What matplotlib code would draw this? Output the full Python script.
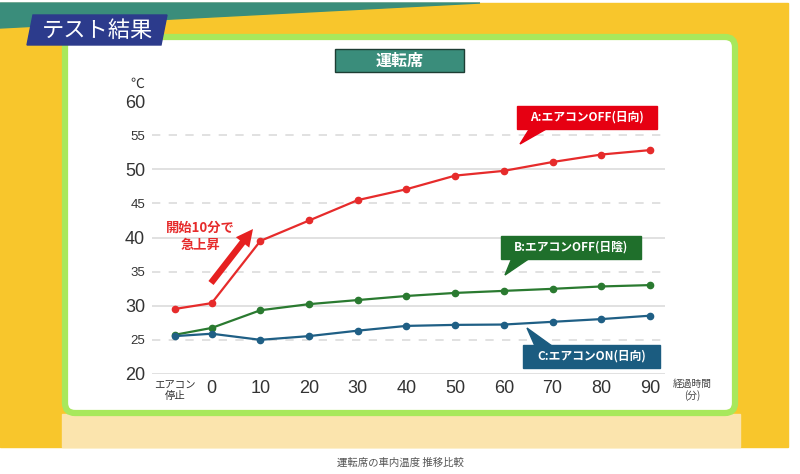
import matplotlib
matplotlib.use("Agg")
import matplotlib.pyplot as plt
from matplotlib.patches import Polygon, Rectangle, FancyBboxPatch, FancyArrow

plt.rcParams['font.family'] = ['Noto Sans CJK JP', 'DejaVu Sans']
NUM_FONT = ['Liberation Sans', 'Noto Sans CJK JP']

# data
x_pos = [-7.5, 0, 10, 20, 30, 40, 50, 60, 70, 80, 90]
x_labels = ['エアコン\n停止', '0', '10', '20', '30', '40', '50', '60', '70', '80', '90']
temp_a = [29.5, 30.35, 39.5, 42.5, 45.5, 47.1, 49.1, 49.8, 51.1, 52.2, 52.85]
temp_b = [25.7, 26.7, 29.3, 30.2, 30.8, 31.4, 31.85, 32.15, 32.45, 32.8, 33.0]
temp_c = [25.5, 25.85, 24.95, 25.5, 26.3, 27.0, 27.15, 27.2, 27.6, 28.0, 28.5]
y_major = [20, 30, 40, 50, 60]
y_minor = [25, 35, 45, 55]

RED = '#e62b2b'
GREEN = '#2a7a30'
BLUE = '#1f5f85'

fig = plt.figure(figsize=(8, 4.74), dpi=100)

# background decoration in pixel coords
bg = fig.add_axes([0, 0, 1, 1], zorder=0)
bg.set_xlim(0, 800)
bg.set_ylim(474, 0)
bg.axis('off')
bg.add_patch(Rectangle((0, 3), 788, 444, color='#f8c62c'))
bg.add_patch(Rectangle((62, 414), 678, 33, color='#fbe4ad'))
bg.add_patch(Polygon([(0, 3), (480, 3), (0, 28)], color='#3a8d7b'))
bg.add_patch(FancyBboxPatch((65, 37), 670, 376, boxstyle='round,pad=0,rounding_size=10',
                            facecolor='white', edgecolor='#a8e85c', linewidth=4.5))
bg.add_patch(Polygon([(33, 15), (167, 15), (161, 45), (27, 45)], color='#2c3b8c'))
bg.text(98, 30, 'テスト結果', color='white', fontsize=16, ha='center', va='center')
bg.add_patch(Rectangle((335, 49), 129, 23, facecolor='#3a8d7b', edgecolor='#1d3d33', linewidth=1))
bg.text(399.5, 60.5, '運転席', color='white', fontsize=11.5, fontweight='bold', ha='center', va='center')
bg.text(400, 463, '運転席の車内温度 推移比較', color='#555555', fontsize=7.5, ha='center', va='center')

# main chart
ax = fig.add_axes([152 / 800, 1 - 373.5 / 474, 513 / 800, 272 / 474], zorder=1)
ax.patch.set_alpha(0)
ax.set_xlim(-12.26, 93.1)
ax.set_ylim(20, 60)
for s in ax.spines.values():
    s.set_visible(False)
for v in y_major:
    ax.axhline(v, color='#dcdcdc', lw=1.2, zorder=1)
for v in y_minor:
    ax.axhline(v, color='#dcdcdc', lw=1.2, ls=(0, (5, 5)), zorder=1)

ax.plot(x_pos, temp_a, color=RED, lw=1.6, marker='o', ms=4.5, zorder=3)
ax.plot(x_pos, temp_b, color=GREEN, lw=1.6, marker='o', ms=4.5, zorder=3)
ax.plot(x_pos, temp_c, color=BLUE, lw=1.6, marker='o', ms=4.5, zorder=3)

ax.set_yticks(y_major + y_minor)
ax.set_yticklabels([str(v) for v in y_major + y_minor])
for lbl, v in zip(ax.get_yticklabels(), y_major + y_minor):
    lbl.set_fontfamily(NUM_FONT)
    lbl.set_fontsize(13 if v % 10 == 0 else 9.5)
    lbl.set_color('#333333')
ax.set_xticks(x_pos)
ax.set_xticklabels(x_labels)
for i, lbl in enumerate(ax.get_xticklabels()):
    lbl.set_color('#333333')
    lbl.set_fontfamily(NUM_FONT)
    lbl.set_fontsize(7.5 if i == 0 else 13)
    if i == 0:
        lbl.set_linespacing(1.05)
ax.tick_params(length=0, pad=5)
ax.tick_params(axis='y', pad=5)

# overlay annotations (pixel coords)
top = fig.add_axes([0, 0, 1, 1], zorder=2)
top.set_xlim(0, 800)
top.set_ylim(474, 0)
top.axis('off')
top.text(137, 84, '℃', fontsize=10, color='#333333', ha='center', va='center')
top.text(692, 390, '経過時間\n(分)', fontsize=7, color='#444444', ha='center', va='center', linespacing=1.2)

def callout(x0, y0, w, h, tail, color, label):
    top.add_patch(Rectangle((x0, y0), w, h, color=color))
    top.add_patch(Polygon(tail, color=color))
    top.text(x0 + w / 2, y0 + h / 2, label, color='white', fontsize=8.5, fontweight='bold',
             ha='center', va='center')

callout(517, 106, 140, 23, [(530, 128), (548, 128), (520, 144)], '#e60012', 'A:エアコンOFF(日向)')
callout(501, 236, 140, 23, [(512, 258), (530, 258), (505, 275)], '#1f6f2b', 'B:エアコンOFF(日陰)')
callout(523, 345, 137, 23, [(535, 346), (552, 346), (527, 328)], '#1b5c80', 'C:エアコンON(日向)')

top.add_patch(FancyArrow(211, 283, 42, -54, width=6.5, head_width=17, head_length=17,
                         length_includes_head=True, color='#e62020', lw=0))
top.text(200, 236, '開始10分で\n急上昇', color='#e62b2b', fontsize=9.5, fontweight='bold',
         ha='center', va='center', linespacing=1.3)

fig.savefig('out.png', dpi=100)
